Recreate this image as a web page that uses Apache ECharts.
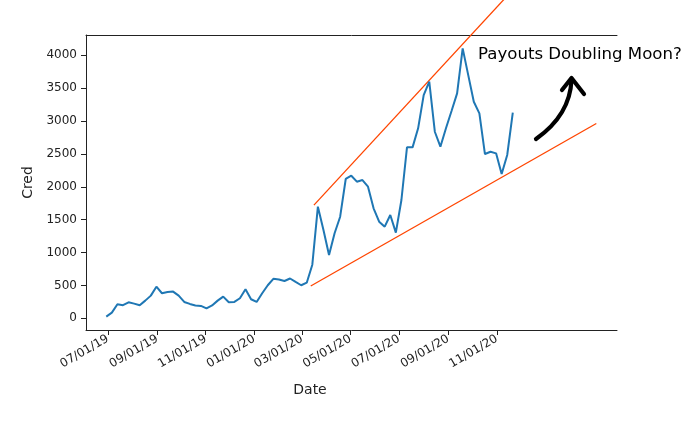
<!DOCTYPE html>
<html>
<head>
<meta charset="utf-8">
<script src="https://cdn.jsdelivr.net/npm/echarts@6/dist/echarts.min.js"></script>
<style>html,body{margin:0;padding:0;background:#fff}#c{width:690px;height:421px}</style>
</head>
<body>
<div id="c"></div>
<script>
// Weekly series start (first sample) and values
const startDate = [2019, 6, 29]; // 2019-06-29
const credValues = [25, 85, 213, 198, 243, 222, 198, 268, 344, 480,
  380, 400, 405, 344, 248, 218, 195, 187, 150, 195,
  268, 329, 243, 248, 304, 441, 289, 248, 380, 502,
  600, 590, 567, 605, 552, 502, 541, 815, 1697, 1343,
  963, 1293, 1545, 2119, 2169, 2078, 2103, 2002, 1673, 1469,
  1393, 1571, 1302, 1799, 2600, 2600, 2890, 3396, 3599, 2838,
  2610, 2890, 3153, 3422, 4106, 3700, 3294, 3118, 2499, 2534,
  2509, 2195, 2484, 3127];
// Trend lines [date, value]
const upperLine = [["2020-03-16", 1722], ["2020-12-02", 5141]];
const lowerLine = [["2020-03-12", 491], ["2021-03-06", 2964]];
// Tick labels
const xTickDates = ["2019-07-01", "2019-09-01", "2019-11-01", "2020-01-01", "2020-03-01", "2020-05-01", "2020-07-01", "2020-09-01", "2020-11-01"];
const yTicks = [0, 500, 1000, 1500, 2000, 2500, 3000, 3500, 4000];
const xRange = ["2019-06-03 12:00", "2021-04-01"];
const yRange = [-179, 4310];

function ts(s) {
  const [d, t] = s.split(" ");
  const [y, m, dd] = d.split("-").map(Number);
  let h = 0;
  if (t) h = Number(t.split(":")[0]);
  return Date.UTC(y, m - 1, dd, h);
}
const DAY = 86400000;
const start = Date.UTC(startDate[0], startDate[1] - 1, startDate[2]);
const seriesData = credValues.map((v, i) => [start + i * 7 * DAY, v]);

function fmt(v) {
  const d = new Date(v);
  const p = n => String(n).padStart(2, "0");
  return p(d.getUTCMonth() + 1) + "/" + p(d.getUTCDate()) + "/" + p(d.getUTCFullYear() % 100);
}

const txt = "#222";
const font = "DejaVu Sans";
const chart = echarts.init(document.getElementById("c"), null, {renderer: "canvas"});
chart.setOption({
  animation: false,
  backgroundColor: "#fff",
  grid: {left: 86, right: 73, top: 35, bottom: 91, containLabel: false},
  xAxis: [{
    type: "value",
    min: ts(xRange[0]), max: ts(xRange[1]),
    splitLine: {show: false},
    axisLine: {show: true, onZero: false, lineStyle: {color: "#222", width: 1}},
    axisTick: {show: true, length: 5, inside: false, customValues: xTickDates.map(ts), lineStyle: {color: "#222"}},
    axisLabel: {
      customValues: xTickDates.map(ts), rotate: 30, margin: 8,
      color: txt, fontSize: 12, fontFamily: font,
      formatter: v => fmt(v)
    }
  }, {
    type: "value", position: "top",
    min: ts(xRange[0]), max: ts(xRange[1]),
    splitLine: {show: false},
    axisLine: {show: true, onZero: false, lineStyle: {color: "#222", width: 1}},
    axisTick: {show: false}, axisLabel: {show: false}
  }],
  yAxis: {
    type: "value", min: yRange[0], max: yRange[1],
    name: "Cred", nameLocation: "middle", nameGap: 44,
    nameTextStyle: {color: txt, fontSize: 14, fontFamily: font},
    splitLine: {show: false},
    axisLine: {show: true, onZero: false, lineStyle: {color: "#222", width: 1}},
    axisTick: {show: true, length: 5, customValues: yTicks, lineStyle: {color: "#222"}},
    axisLabel: {customValues: yTicks, margin: 9, color: txt, fontSize: 12, fontFamily: font, formatter: v => String(v)}
  },
  series: [{
    type: "line", data: seriesData, showSymbol: false, symbol: "none",
    lineStyle: {color: "#1f77b4", width: 2}, z: 3
  }, {
    type: "line", data: upperLine.map(p => [ts(p[0]), p[1]]), showSymbol: false, symbol: "none",
    clip: false, lineStyle: {color: "#ff4500", width: 1.3}, z: 2
  }, {
    type: "line", data: lowerLine.map(p => [ts(p[0]), p[1]]), showSymbol: false, symbol: "none",
    clip: false, lineStyle: {color: "#ff4500", width: 1.3}, z: 2
  }],
  graphic: [
    {type: "text", x: 310, y: 390, style: {text: "Date", fill: txt, font: "14px DejaVu Sans", textAlign: "center", textVerticalAlign: "middle"}},
    {type: "text", x: 478, y: 55, style: {text: "Payouts Doubling Moon?", fill: "#000", font: "16.6px DejaVu Sans", textAlign: "left", textVerticalAlign: "middle"}},
    {type: "bezierCurve", shape: {x1: 536, y1: 139, x2: 571.5, y2: 80, cpx1: 570, cpy1: 115}, style: {stroke: "#000", lineWidth: 4.2, fill: null, lineCap: "round"}},
    {type: "polyline", shape: {points: [[562, 90], [571.5, 78], [584, 94]]}, style: {stroke: "#000", lineWidth: 4.2, fill: null, lineCap: "round", lineJoin: "round"}}
  ]
});
</script>
</body>
</html>
